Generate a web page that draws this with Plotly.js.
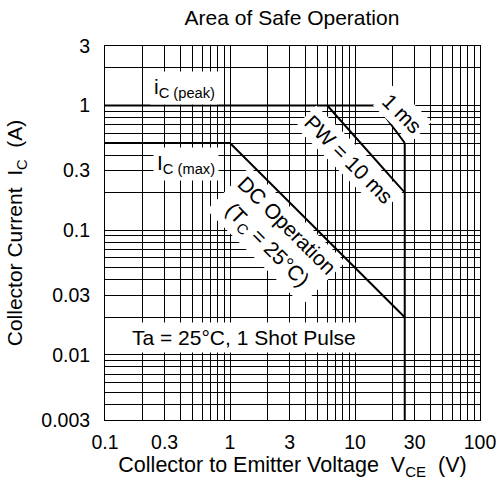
<!DOCTYPE html>
<html>
<head>
<meta charset="utf-8">
<script src="https://cdn.plot.ly/plotly-3.0.1.min.js"></script>
<style>html,body{margin:0;padding:0;background:#fff;}#chart{width:500px;height:489px;}</style>
</head>
<body>
<div id="chart"></div>
<script>
// ---- data ----
const pulse1msX = [0.1, 15, 25];
const pulse1msY = [1, 1, 0.5];
const pulse10msX = [6, 25];
const pulse10msY = [1, 0.2];
const dcX = [0.1, 1, 25];
const dcY = [0.5, 0.5, 0.02];
const vceoX = [25, 25];
const vceoY = [0.5, 0.003];

// ---- axis ticks / grid ----
const xGridVals = [0.1,0.2,0.3,0.4,0.5,0.6,0.7,0.8,0.9,1,2,3,4,5,6,7,8,9,10,20,30,40,50,60,70,80,90,100];
const xLabelVals = [0.1, 0.3, 1, 3, 10, 30, 100];
const xLabelText = ['0.1','0.3','1','3','10','30','100'];
const yGridVals = [0.003,0.004,0.005,0.006,0.007,0.008,0.009,0.01,0.02,0.03,0.04,0.05,0.06,0.07,0.08,0.09,0.1,0.2,0.3,0.4,0.5,0.6,0.7,0.8,0.9,1,2,3];
const yLabelVals = [0.003, 0.01, 0.03, 0.1, 0.3, 1, 3];
const yLabelText = ['0.003','0.01','0.03','0.1','0.3','1','3'];

function tickText(grid, vals, texts) {
  return grid.map(v => { const i = vals.indexOf(v); return i >= 0 ? texts[i] : ''; });
}

const FONT = 'Liberation Sans, Arial, Helvetica, sans-serif';
const lineStyle = {color: '#000', width: 2};

const traces = [
  {x: pulse1msX, y: pulse1msY, mode: 'lines', line: lineStyle, hoverinfo: 'skip'},
  {x: pulse10msX, y: pulse10msY, mode: 'lines', line: lineStyle, hoverinfo: 'skip'},
  {x: dcX, y: dcY, mode: 'lines', line: lineStyle, hoverinfo: 'skip'},
  {x: vceoX, y: vceoY, mode: 'lines', line: lineStyle, hoverinfo: 'skip'}
];

const L = Math.log10;
function ann(text, x, y, angle) {
  return {text: text, x: L(x), y: L(y), xref: 'x', yref: 'y', showarrow: false,
          textangle: angle || 0, bgcolor: '#fff', borderpad: 3,
          font: {family: FONT, size: 21, color: '#000'}, align: 'center'};
}

const layout = {
  width: 500, height: 489,
  margin: {l: 105, r: 20, t: 46, b: 69},
  paper_bgcolor: '#fff', plot_bgcolor: '#fff',
  showlegend: false,
  font: {family: FONT, size: 19.5, color: '#000'},
  title: {text: 'Area of Safe Operation', x: 0.584, xanchor: 'center', y: 0.963, yanchor: 'middle',
          font: {family: FONT, size: 21, color: '#000'}},
  xaxis: {
    type: 'log', range: [L(0.1), L(100)],
    tickmode: 'array', tickvals: xGridVals, ticktext: tickText(xGridVals, xLabelVals, xLabelText),
    ticks: '', showgrid: true, gridcolor: '#000', gridwidth: 1,
    showline: true, linecolor: '#000', linewidth: 1, mirror: true,
    ticklabelstandoff: 5,
    tickfont: {family: FONT, size: 19.5, color: '#000'},
    title: {text: 'Collector to Emitter Voltage\u00a0\u00a0V<sub>CE</sub>\u00a0\u00a0(V)', standoff: 4,
            font: {family: FONT, size: 21.5, color: '#000'}}
  },
  yaxis: {
    type: 'log', range: [L(0.003), L(3)],
    tickmode: 'array', tickvals: yGridVals, ticktext: tickText(yGridVals, yLabelVals, yLabelText),
    ticks: '', showgrid: true, gridcolor: '#000', gridwidth: 1,
    showline: true, linecolor: '#000', linewidth: 1, mirror: true,
    ticklabelstandoff: 10,
    tickfont: {family: FONT, size: 19.5, color: '#000'},
    title: {text: 'Collector Current\u00a0\u00a0I<sub>C</sub>\u00a0\u00a0(A)', standoff: 12,
            font: {family: FONT, size: 21, color: '#000'}}
  },
  annotations: [
    ann('i<sub>C (peak)</sub>', 0.436, 1.38, 0),
    ann('I<sub>C (max)</sub>', 0.445, 0.34, 0),
    ann('DC Operation<br>(T<sub>C</sub> = 25°C)', 2.33, 0.0898, 45),
    ann('PW = 10 ms', 8.95, 0.366, 45),
    ann('1 ms', 23.8, 0.855, 45),
    ann('Ta = 25°C, 1 Shot Pulse', 1.294, 0.01366, 0)
  ]
};

Plotly.newPlot('chart', traces, layout, {staticPlot: true, displayModeBar: false});
</script>
</body>
</html>
